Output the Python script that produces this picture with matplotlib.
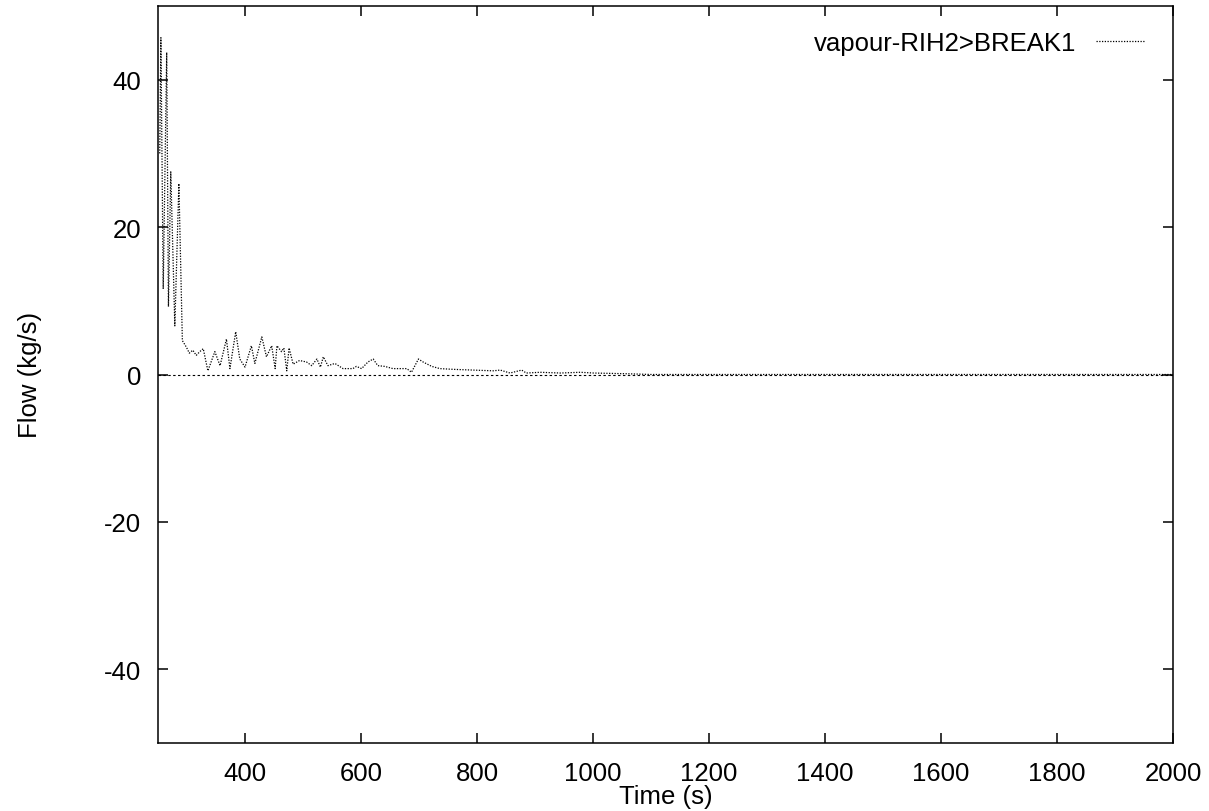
import matplotlib
matplotlib.use("Agg")
import matplotlib.pyplot as plt

plt.rcParams['font.family'] = ['Liberation Sans', 'DejaVu Sans']
plt.rcParams['axes.unicode_minus'] = False

series_label = "vapour-RIH2>BREAK1"
x_label = "Time (s)"
y_label = "Flow (kg/s)"

time_s = [253, 255, 259, 265, 268, 272, 279, 286, 292, 299, 304, 310, 316,
          322, 328, 336, 348, 357, 368, 374, 384, 391, 400, 411, 417, 429,
          437, 446, 452, 455, 463, 467, 472, 476, 483, 494, 506, 515, 524,
          530, 535, 543, 555, 569, 586, 592, 601, 612, 621, 629, 641, 655,
          679, 687, 699, 707, 722, 736, 759, 793, 828, 840, 857, 877, 885,
          909, 944, 978, 1001, 1030, 1060, 1100, 2000]
flow_kgs = [30.0, 45.7, 11.6, 43.7, 9.2, 27.5, 6.6, 25.9, 4.6, 3.7, 2.9, 3.3,
            2.6, 3.1, 3.5, 0.5, 3.1, 1.2, 4.8, 0.8, 5.8, 2.1, 1.0, 3.9, 1.5,
            5.1, 2.4, 3.9, 0.8, 3.9, 3.1, 3.6, 0.5, 3.6, 1.4, 1.9, 1.7, 1.2,
            2.1, 1.0, 2.4, 1.2, 1.5, 0.8, 0.8, 1.1, 0.8, 1.7, 2.1, 1.2, 1.1,
            0.8, 0.8, 0.3, 2.1, 1.7, 1.1, 0.8, 0.7, 0.6, 0.5, 0.6, 0.2, 0.6,
            0.2, 0.3, 0.2, 0.3, 0.2, 0.15, 0.1, 0.0, 0.0]

x_ticks = [400, 600, 800, 1000, 1200, 1400, 1600, 1800, 2000]
y_ticks = [-40, -20, 0, 20, 40]

FS = 18.5

fig = plt.figure(figsize=(12.09, 8.12), dpi=100)
ax = fig.add_axes([158/1209, 1-744/812, (1173-158)/1209, (744-7)/812])

ax.axhline(0, color='black', lw=0.8, linestyle=(0, (2.2, 2.2)), zorder=1)
ax.plot(time_s, flow_kgs, color='black', lw=0.9, linestyle=(0, (1, 1.2)),
        label=series_label, zorder=2)

ax.set_xlim(250, 2000)
ax.set_ylim(-50, 50)
ax.set_xticks(x_ticks)
ax.set_yticks(y_ticks)
ax.tick_params(direction='in', length=7.5, width=1.1, top=True, right=True,
               labelsize=FS)
ax.tick_params(axis='x', pad=13)
ax.tick_params(axis='y', pad=12)
for s in ax.spines.values():
    s.set_linewidth(1.1)

fig.text((158 + 1173) / 2 / 1209, 1 - 797 / 812, x_label, fontsize=FS,
         ha='center', va='center')
fig.text(30 / 1209, 1 - 375 / 812, y_label, fontsize=FS, rotation=90,
         ha='center', va='center')

ax.legend(loc='upper right', markerfirst=False, frameon=False, fontsize=FS,
          handlelength=1.9, borderaxespad=0.3, handletextpad=0.75,
          bbox_to_anchor=(0.990, 0.99))

fig.savefig("out.png", dpi=100)
